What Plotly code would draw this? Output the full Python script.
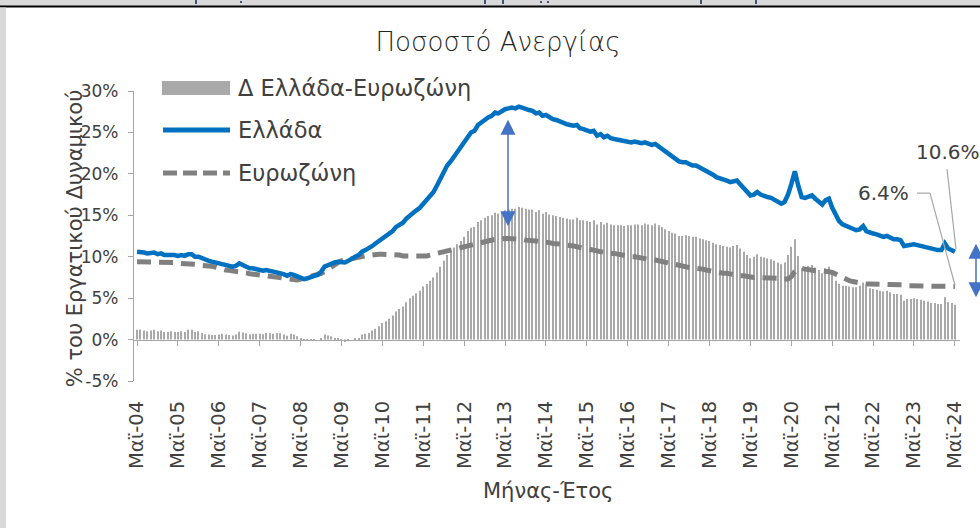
import plotly.graph_objects as go
import pandas as pd

# ---------------- data (monthly, May 2004 - May 2024) ----------------
gr_2004 = [10.6, 10.6, 10.5, 10.4, 10.4, 10.5, 10.3, 10.4]
gr_2005 = [10.2, 10.2, 10.3, 10.2, 10.1, 10.2, 10.1, 10.3, 10.3, 10.0, 10.0, 9.8]
gr_2006 = [9.6, 9.5, 9.4, 9.3, 9.2, 9.2, 9.0, 8.9, 8.8, 8.9, 9.2, 9.0]
gr_2007 = [8.8, 8.6, 8.6, 8.5, 8.4, 8.3, 8.4, 8.3, 8.2, 8.2, 8.1, 7.9]
gr_2008 = [7.7, 7.9, 7.8, 7.6, 7.4, 7.3, 7.4, 7.6, 7.7, 7.8, 8.2, 8.8]
gr_2009 = [9.0, 9.2, 9.3, 9.4, 9.4, 9.3, 9.5, 9.8, 10.0, 10.2, 10.6, 10.8]
gr_2010 = [11.0, 11.3, 11.6, 11.9, 12.3, 12.5, 12.8, 13.1, 13.6, 13.9, 14.1, 14.6]
gr_2011 = [15.0, 15.3, 15.6, 15.9, 16.4, 16.8, 17.3, 17.8, 18.6, 19.4, 20.2, 21.0]
gr_2012 = [21.5, 22.1, 22.6, 23.1, 23.7, 24.5, 25.0, 25.2, 25.9, 26.2, 26.6, 26.8]
gr_2013 = [27.0, 27.4, 27.3, 27.6, 27.8, 27.9, 28.0, 27.9, 28.1, 28.0, 27.8, 27.7]
gr_2014 = [27.6, 27.3, 27.4, 27.0, 27.1, 26.8, 26.6, 26.5, 26.3, 26.2, 26.0, 25.9]
gr_2015 = [25.8, 25.9, 25.5, 25.4, 25.3, 25.1, 25.2, 24.6, 24.8, 24.4, 24.6, 24.3]
gr_2016 = [24.2, 24.1, 24.0, 23.9, 23.9, 23.8, 23.9, 23.8, 23.7, 23.8, 23.6, 23.5]
gr_2017 = [23.6, 23.3, 23.0, 22.6, 22.3, 22.0, 21.8, 21.5, 21.4, 21.4, 21.2, 21.0]
gr_2018 = [21.0, 20.8, 20.6, 20.4, 20.2, 19.9, 19.6, 19.5, 19.3, 19.2, 19.0, 19.1]
gr_2019 = [19.2, 18.7, 18.3, 17.8, 17.4, 17.5, 17.8, 17.5, 17.3, 17.2, 17.1, 16.9]
gr_2020 = [16.7, 16.4, 16.6, 17.5, 18.8, 20.3, 18.6, 17.2, 17.1, 17.3, 17.4, 17.0]
gr_2021 = [16.7, 16.3, 16.8, 17.0, 15.9, 15.0, 14.3, 13.9, 13.7, 13.5, 13.3, 13.2]
gr_2022 = [13.3, 13.7, 13.1, 12.9, 12.8, 12.7, 12.6, 12.4, 12.5, 12.3, 12.1, 12.1]
gr_2023 = [12.0, 11.3, 11.4, 11.4, 11.5, 11.4, 11.3, 11.2, 11.1, 10.9, 10.9, 10.8]
gr_2024 = [10.8, 11.6, 11.0, 10.8, 10.6]

ez_2004 = [9.4, 9.4, 9.4, 9.4, 9.3, 9.3, 9.3, 9.3]
ez_2005 = [9.3, 9.3, 9.3, 9.3, 9.2, 9.2, 9.2, 9.1, 9.1, 9.1, 9.0, 9.0]
ez_2006 = [8.95, 8.9, 8.85, 8.75, 8.6, 8.5, 8.4, 8.35, 8.3, 8.3, 8.25, 8.15]
ez_2007 = [8.05, 7.95, 7.9, 7.8, 7.7, 7.65, 7.6, 7.55, 7.5, 7.4, 7.35, 7.3]
ez_2008 = [7.25, 7.2, 7.2, 7.2, 7.3, 7.4, 7.45, 7.55, 7.65, 7.8, 8.0, 8.2]
ez_2009 = [8.5, 8.8, 9.1, 9.3, 9.5, 9.6, 9.7, 9.8, 9.9, 10.0, 10.0, 10.1]
ez_2010 = [10.2, 10.2, 10.3, 10.3, 10.3, 10.3, 10.3, 10.2, 10.2, 10.2, 10.1, 10.1]
ez_2011 = [10.0, 10.0, 10.0, 10.0, 10.0, 10.1, 10.2, 10.3, 10.5, 10.6, 10.7, 10.8]
ez_2012 = [10.9, 11.0, 11.1, 11.2, 11.3, 11.4, 11.5, 11.6, 11.7, 11.8, 11.9, 11.9]
ez_2013 = [12.0, 12.1, 12.1, 12.2, 12.2, 12.2, 12.2, 12.1, 12.1, 12.1, 12.0, 12.0]
ez_2014 = [11.9, 11.9, 11.8, 11.8, 11.7, 11.7, 11.6, 11.6, 11.5, 11.5, 11.4, 11.4]
ez_2015 = [11.3, 11.2, 11.1, 11.0, 11.0, 10.9, 10.8, 10.7, 10.6, 10.5, 10.5, 10.4]
ez_2016 = [10.4, 10.3, 10.2, 10.2, 10.1, 10.0, 10.0, 9.9, 9.9, 9.8, 9.7, 9.7]
ez_2017 = [9.6, 9.5, 9.4, 9.3, 9.2, 9.1, 9.0, 9.0, 8.9, 8.8, 8.7, 8.6]
ez_2018 = [8.6, 8.6, 8.5, 8.4, 8.3, 8.2, 8.1, 8.1, 8.0, 8.0, 7.9, 7.8]
ez_2019 = [7.8, 7.7, 7.7, 7.6, 7.6, 7.5, 7.5, 7.5, 7.4, 7.4, 7.4, 7.4]
ez_2020 = [7.4, 7.3, 7.3, 7.3, 7.6, 8.2, 8.5, 8.6, 8.5, 8.4, 8.4, 8.3]
ez_2021 = [8.3, 8.3, 8.2, 8.2, 8.1, 7.9, 7.6, 7.4, 7.2, 7.1, 7.0, 6.9]
ez_2022 = [6.8, 6.8, 6.7, 6.7, 6.7, 6.7, 6.7, 6.6, 6.6, 6.6, 6.6, 6.6]
ez_2023 = [6.6, 6.6, 6.5, 6.5, 6.5, 6.5, 6.5, 6.5, 6.5, 6.5, 6.5, 6.5]
ez_2024 = [6.5, 6.5, 6.5, 6.4, 6.4]

tick_years = ["04", "05", "06", "07", "08", "09", "10", "11", "12", "13", "14",
              "15", "16", "17", "18", "19", "20", "21", "22", "23", "24"]
tick_labels = ["Μαϊ-" + y for y in tick_years]
y_ticks = [-5, 0, 5, 10, 15, 20, 25, 30]

greece = (gr_2004 + gr_2005 + gr_2006 + gr_2007 + gr_2008 + gr_2009 + gr_2010 +
          gr_2011 + gr_2012 + gr_2013 + gr_2014 + gr_2015 + gr_2016 + gr_2017 +
          gr_2018 + gr_2019 + gr_2020 + gr_2021 + gr_2022 + gr_2023 + gr_2024)
euro = (ez_2004 + ez_2005 + ez_2006 + ez_2007 + ez_2008 + ez_2009 + ez_2010 +
        ez_2011 + ez_2012 + ez_2013 + ez_2014 + ez_2015 + ez_2016 + ez_2017 +
        ez_2018 + ez_2019 + ez_2020 + ez_2021 + ez_2022 + ez_2023 + ez_2024)
months = pd.date_range("2004-05-01", periods=len(greece), freq="MS")
diff = [round(g - e, 2) for g, e in zip(greece, euro)]
tick_vals = pd.date_range("2004-05-01", periods=len(tick_labels), freq="12MS")

# ---------------- geometry helpers ----------------
W, H = 980, 528
L, R, T, B = 134, 960, 91, 380.6


def px(x):
    return (x - L) / (R - L)


def py(y):
    return (B - y) / (B - T)


TXT = "#404040"
FONT = "DejaVu Sans"
BLUE = "#0070C0"
GREY = "#808080"
BARC = "#A9A9A9"

fig = go.Figure()
fig.add_trace(go.Bar(x=months, y=diff, marker=dict(color=BARC, line_width=0),
                     showlegend=False, hoverinfo="skip"))
fig.add_trace(go.Scatter(x=months, y=euro, mode="lines",
                         line=dict(color=GREY, width=5, dash="14px,8px"),
                         showlegend=False))
fig.add_trace(go.Scatter(x=months, y=greece, mode="lines",
                         line=dict(color=BLUE, width=4.5), showlegend=False))
# invisible trace to attach the zero-line axis
fig.add_trace(go.Scatter(x=[months[0]], y=[0], xaxis="x2", mode="markers",
                         marker=dict(opacity=0), showlegend=False, hoverinfo="skip"))

shapes = []
# page frame pieces (top grey strip, black rule, left grey strip)
shapes.append(dict(type="rect", xref="paper", yref="paper", x0=px(-2), x1=px(W + 2),
                   y0=py(6), y1=py(-2), fillcolor="#D9D9D9", line_width=0, layer="above"))
shapes.append(dict(type="rect", xref="paper", yref="paper", x0=px(-2), x1=px(W + 2),
                   y0=py(7.5), y1=py(5.5), fillcolor="#000000", line_width=0, layer="above"))
shapes.append(dict(type="rect", xref="paper", yref="paper", x0=px(-2), x1=px(6),
                   y0=py(H + 2), y1=py(7.5), fillcolor="#D9D9D9", line_width=0, layer="above"))
# fragments of the cut-off text above the frame
NAVY = "#1F2D5C"
for xm, y_top, y_bot in [(196, -1, 4), (241, 1, 3), (485, -1, 4), (503, -1, 4),
                         (541, 1, 3), (548, 1, 3), (701, -1, 4), (756, -1, 4)]:
    shapes.append(dict(type="line", xref="paper", yref="paper", x0=px(xm), x1=px(xm),
                       y0=py(y_bot), y1=py(y_top), line=dict(color=NAVY, width=1.6),
                       layer="above"))

# legend
shapes.append(dict(type="rect", xref="paper", yref="paper", x0=px(162), x1=px(230),
                   y0=py(95), y1=py(81), fillcolor=BARC, line_width=0))
shapes.append(dict(type="line", xref="paper", yref="paper", x0=px(163), x1=px(230),
                   y0=py(130), y1=py(130), line=dict(color=BLUE, width=5)))
shapes.append(dict(type="line", xref="paper", yref="paper", x0=px(163), x1=px(230),
                   y0=py(173), y1=py(173), line=dict(color=GREY, width=5, dash="14px,6px")))

# leader lines for end labels
shapes.append(dict(type="line", xref="paper", yref="paper", x0=px(947), x1=px(956),
                   y0=py(169), y1=py(249), line=dict(color="#A6A6A6", width=1.2)))
shapes.append(dict(type="line", xref="paper", yref="paper", x0=px(917), x1=px(930),
                   y0=py(193), y1=py(193), line=dict(color="#A6A6A6", width=1.2)))
shapes.append(dict(type="line", xref="paper", yref="paper", x0=px(930), x1=px(955),
                   y0=py(193), y1=py(285), line=dict(color="#A6A6A6", width=1.2)))

annotations = []
legend_items = [("Δ Ελλάδα-Ευρωζώνη", 88), ("Ελλάδα", 130), ("Ευρωζώνη", 173)]
for txt, yy in legend_items:
    annotations.append(dict(text=txt, xref="paper", yref="paper", x=px(236), y=py(yy),
                            xanchor="left", yanchor="middle", showarrow=False,
                            font=dict(family=FONT, size=22.5, color=TXT)))

annotations.append(dict(text=f"{greece[-1]}%", xref="paper", yref="paper",
                        x=px(948), y=py(152), xanchor="center", yanchor="middle",
                        showarrow=False, font=dict(family=FONT, size=20, color=TXT)))
annotations.append(dict(text=f"{euro[-1]}%", xref="paper", yref="paper",
                        x=px(883), y=py(193), xanchor="center", yanchor="middle",
                        showarrow=False, font=dict(family=FONT, size=20, color=TXT)))

# y axis title
annotations.append(dict(text="% του Εργατικού Δυναμικού", xref="paper", yref="paper",
                        x=px(75), y=py(238), textangle=-90, showarrow=False,
                        xanchor="center", yanchor="middle",
                        font=dict(family=FONT, size=21, color=TXT)))
# x axis title
annotations.append(dict(text="Μήνας-Έτος", xref="paper", yref="paper",
                        x=px(548), y=py(490), showarrow=False,
                        xanchor="center", yanchor="middle",
                        font=dict(family=FONT, size=21, color=TXT)))

# blue double arrows
ARROW = "#4472C4"
annotations.append(dict(text="", xref="paper", yref="paper", x=px(508), y=py(226),
                        ax=0, ay=-(226 - 118), showarrow=True, arrowhead=2,
                        arrowside="end+start", arrowsize=2, arrowwidth=1.5,
                        arrowcolor=ARROW, standoff=0, startstandoff=0))
annotations.append(dict(text="", xref="paper", yref="paper", x=px(976), y=py(297),
                        ax=0, ay=-(297 - 242), showarrow=True, arrowhead=2,
                        arrowside="end+start", arrowsize=2, arrowwidth=1.5,
                        arrowcolor=ARROW, standoff=0, startstandoff=0))

x_range = ["2004-04-04", "2024-06-15"]

fig.update_layout(
    width=W, height=H,
    margin=dict(l=L, r=W - R, t=T, b=H - B),
    paper_bgcolor="white", plot_bgcolor="white",
    bargap=0.66,
    title=dict(text="Ποσοστό Ανεργίας", x=498 / W, xanchor="center",
               y=1 - 42 / H, yanchor="middle",
               font=dict(family=FONT, size=26, color="#262626", weight=300)),
    xaxis=dict(range=x_range, tickvals=tick_vals, ticktext=tick_labels,
               tickangle=-90, showgrid=False, zeroline=False, showline=False,
               ticks="", ticklabelstandoff=15,
               tickfont=dict(family=FONT, size=19.5, color=TXT)),
    xaxis2=dict(overlaying="x", matches="x", anchor="free",
                position=5 / 35, showline=True, linecolor="#A6A6A6", linewidth=1.3,
                ticks="outside", ticklen=5, tickcolor="#A6A6A6", tickwidth=1.3,
                tickvals=tick_vals, showticklabels=False, showgrid=False,
                zeroline=False),
    yaxis=dict(range=[-5, 30], tickvals=y_ticks,
               ticktext=[f"{v}%" for v in y_ticks], showgrid=False, zeroline=False,
               showline=True, linecolor="#A6A6A6", linewidth=1.3,
               ticks="outside", ticklen=5, tickcolor="#A6A6A6", tickwidth=1.3,
               ticklabelstandoff=6,
               tickfont=dict(family=FONT, size=17, color=TXT)),
    shapes=shapes,
    annotations=annotations,
    showlegend=False,
)

fig.write_html("out.html", config={"displayModeBar": False},
               post_script="document.body.style.margin='0px';")
